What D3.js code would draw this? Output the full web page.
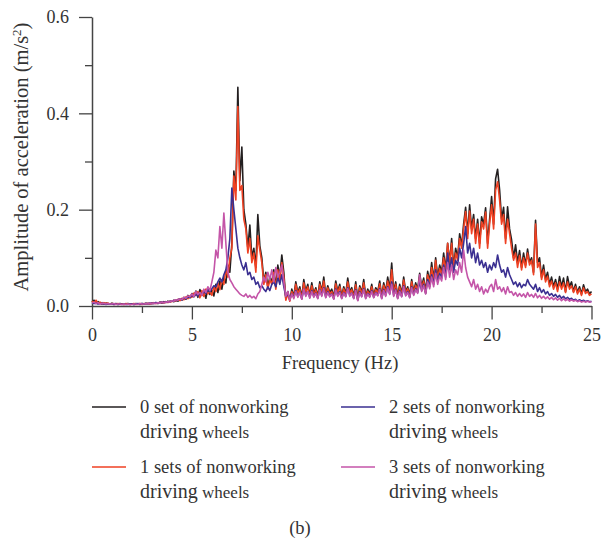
<!DOCTYPE html>
<html>
<head>
<meta charset="utf-8">
<script src="https://cdn.jsdelivr.net/npm/d3@7/dist/d3.min.js"></script>
<style>
  body { margin: 0; background: #fff; }
  svg { display: block; font-family: "Liberation Serif", "Times New Roman", serif; }
</style>
</head>
<body>
<svg id="chart" width="611" height="544"></svg>
<script>
// spectrum sampled every 0.1 Hz from 0 to 25 Hz
const freqStep = 0.1;

// 0 set of nonworking driving wheels
const set0 = [
  0.008,0.012,0.006,0.009,0.005,0.007,0.004,0.006,0.005,0.004,
  0.006,0.004,0.005,0.003,0.005,0.004,0.003,0.004,0.005,0.003,
  0.004,0.003,0.005,0.004,0.003,0.005,0.004,0.006,0.004,0.005,
  0.006,0.005,0.007,0.005,0.008,0.006,0.009,0.007,0.010,0.008,
  0.011,0.009,0.013,0.010,0.015,0.012,0.018,0.014,0.022,0.017,
  0.026,0.020,0.031,0.018,0.034,0.022,0.029,0.016,0.038,0.024,
  0.033,0.021,0.045,0.028,0.052,0.035,0.060,0.048,0.085,0.070,
  0.130,0.280,0.240,0.454,0.260,0.330,0.200,0.170,0.120,0.168,
  0.100,0.120,0.080,0.190,0.125,0.100,0.050,0.070,0.040,0.060,
  0.050,0.075,0.040,0.085,0.060,0.106,0.070,0.015,0.030,0.012,
  0.035,0.020,0.050,0.028,0.040,0.018,0.055,0.030,0.045,0.022,
  0.048,0.025,0.038,0.020,0.050,0.030,0.060,0.022,0.042,0.028,
  0.035,0.018,0.052,0.030,0.045,0.020,0.040,0.025,0.058,0.030,
  0.038,0.020,0.050,0.015,0.042,0.028,0.055,0.020,0.035,0.025,
  0.045,0.022,0.038,0.030,0.052,0.020,0.048,0.030,0.060,0.035,
  0.089,0.030,0.050,0.020,0.045,0.025,0.060,0.030,0.040,0.022,
  0.055,0.030,0.048,0.035,0.068,0.040,0.058,0.030,0.072,0.050,
  0.090,0.055,0.100,0.060,0.085,0.070,0.110,0.075,0.130,0.090,
  0.140,0.080,0.120,0.100,0.150,0.125,0.170,0.205,0.150,0.210,
  0.160,0.190,0.140,0.180,0.130,0.185,0.170,0.204,0.130,0.180,
  0.227,0.170,0.264,0.284,0.241,0.180,0.205,0.140,0.206,0.160,
  0.137,0.100,0.127,0.090,0.115,0.080,0.110,0.085,0.118,0.090,
  0.100,0.070,0.178,0.090,0.100,0.060,0.085,0.055,0.070,0.045,
  0.060,0.040,0.055,0.035,0.061,0.040,0.058,0.030,0.061,0.040,
  0.050,0.030,0.045,0.028,0.040,0.025,0.044,0.030,0.035,0.025,
  0.030
];

// 1 sets of nonworking driving wheels
const set1 = [
  0.010,0.006,0.012,0.005,0.008,0.004,0.007,0.005,0.006,0.004,
  0.005,0.003,0.004,0.005,0.003,0.004,0.003,0.005,0.004,0.003,
  0.004,0.005,0.003,0.004,0.005,0.003,0.005,0.004,0.006,0.004,
  0.005,0.007,0.005,0.006,0.007,0.008,0.006,0.009,0.007,0.010,
  0.009,0.012,0.010,0.014,0.011,0.016,0.013,0.019,0.015,0.021,
  0.018,0.027,0.022,0.030,0.017,0.032,0.020,0.035,0.025,0.030,
  0.022,0.040,0.030,0.048,0.034,0.055,0.045,0.075,0.060,0.100,
  0.120,0.270,0.220,0.414,0.240,0.250,0.180,0.160,0.110,0.140,
  0.090,0.110,0.070,0.146,0.116,0.090,0.045,0.065,0.035,0.055,
  0.045,0.070,0.035,0.075,0.050,0.090,0.060,0.012,0.025,0.010,
  0.030,0.018,0.045,0.025,0.035,0.015,0.048,0.028,0.040,0.020,
  0.042,0.022,0.034,0.018,0.045,0.028,0.052,0.020,0.038,0.025,
  0.030,0.016,0.046,0.027,0.040,0.018,0.036,0.022,0.050,0.027,
  0.034,0.018,0.044,0.013,0.038,0.025,0.048,0.018,0.031,0.022,
  0.040,0.020,0.034,0.027,0.046,0.018,0.043,0.027,0.052,0.030,
  0.075,0.027,0.045,0.018,0.040,0.022,0.054,0.027,0.036,0.020,
  0.050,0.027,0.043,0.031,0.060,0.036,0.052,0.027,0.065,0.045,
  0.080,0.050,0.095,0.055,0.078,0.065,0.100,0.070,0.130,0.085,
  0.130,0.075,0.110,0.095,0.140,0.120,0.160,0.196,0.140,0.197,
  0.150,0.180,0.130,0.170,0.120,0.175,0.160,0.195,0.120,0.170,
  0.210,0.160,0.240,0.258,0.220,0.170,0.190,0.130,0.180,0.150,
  0.120,0.095,0.110,0.080,0.105,0.075,0.100,0.080,0.110,0.085,
  0.095,0.065,0.170,0.080,0.090,0.055,0.075,0.050,0.062,0.040,
  0.052,0.035,0.048,0.030,0.050,0.035,0.048,0.028,0.050,0.035,
  0.042,0.028,0.040,0.025,0.035,0.022,0.038,0.026,0.030,0.022,
  0.025
];

// 2 sets of nonworking driving wheels
const set2 = [
  0.007,0.005,0.006,0.004,0.005,0.004,0.005,0.003,0.004,0.004,
  0.004,0.003,0.004,0.003,0.004,0.003,0.004,0.003,0.003,0.004,
  0.004,0.003,0.004,0.005,0.004,0.005,0.004,0.005,0.005,0.006,
  0.005,0.006,0.007,0.006,0.007,0.008,0.007,0.009,0.008,0.010,
  0.010,0.012,0.011,0.013,0.015,0.013,0.017,0.015,0.019,0.018,
  0.022,0.019,0.025,0.021,0.028,0.024,0.030,0.026,0.034,0.030,
  0.036,0.042,0.040,0.050,0.058,0.050,0.065,0.075,0.100,0.140,
  0.245,0.200,0.160,0.120,0.100,0.085,0.075,0.090,0.065,0.070,
  0.055,0.060,0.045,0.050,0.038,0.042,0.035,0.030,0.040,0.032,
  0.045,0.050,0.040,0.060,0.045,0.065,0.040,0.020,0.025,0.015,
  0.025,0.018,0.032,0.020,0.028,0.015,0.035,0.022,0.030,0.018,
  0.032,0.020,0.027,0.016,0.034,0.022,0.038,0.018,0.030,0.020,
  0.025,0.015,0.035,0.022,0.030,0.016,0.028,0.020,0.038,0.022,
  0.027,0.016,0.034,0.012,0.030,0.020,0.036,0.016,0.026,0.020,
  0.032,0.018,0.028,0.022,0.036,0.016,0.034,0.022,0.040,0.025,
  0.050,0.022,0.035,0.016,0.032,0.020,0.042,0.022,0.030,0.018,
  0.040,0.024,0.036,0.028,0.050,0.032,0.045,0.026,0.055,0.040,
  0.065,0.045,0.075,0.050,0.068,0.058,0.085,0.060,0.110,0.075,
  0.100,0.070,0.095,0.085,0.120,0.100,0.130,0.165,0.110,0.130,
  0.100,0.120,0.090,0.110,0.085,0.095,0.080,0.090,0.070,0.085,
  0.075,0.090,0.080,0.106,0.085,0.070,0.075,0.060,0.080,0.065,
  0.055,0.045,0.050,0.040,0.048,0.038,0.045,0.042,0.055,0.045,
  0.040,0.035,0.045,0.030,0.038,0.028,0.034,0.025,0.030,0.022,
  0.026,0.020,0.024,0.018,0.022,0.016,0.020,0.015,0.018,0.014,
  0.016,0.012,0.014,0.010,0.013,0.010,0.012,0.009,0.011,0.009,
  0.010
];

// 3 sets of nonworking driving wheels
const set3 = [
  0.006,0.008,0.005,0.007,0.004,0.006,0.005,0.004,0.005,0.004,
  0.004,0.005,0.003,0.004,0.004,0.003,0.004,0.003,0.004,0.003,
  0.003,0.004,0.004,0.003,0.005,0.004,0.004,0.005,0.004,0.006,
  0.005,0.006,0.005,0.007,0.006,0.008,0.007,0.008,0.009,0.008,
  0.011,0.010,0.013,0.012,0.015,0.013,0.018,0.016,0.021,0.019,
  0.025,0.020,0.030,0.024,0.028,0.022,0.035,0.028,0.040,0.032,
  0.050,0.070,0.116,0.100,0.165,0.120,0.193,0.130,0.070,0.055,
  0.048,0.040,0.035,0.030,0.025,0.022,0.020,0.025,0.018,0.022,
  0.017,0.020,0.015,0.025,0.030,0.045,0.060,0.050,0.070,0.055,
  0.075,0.050,0.080,0.060,0.070,0.085,0.050,0.020,0.030,0.012,
  0.025,0.015,0.030,0.018,0.028,0.014,0.035,0.020,0.030,0.016,
  0.030,0.018,0.026,0.015,0.033,0.020,0.036,0.017,0.028,0.019,
  0.024,0.014,0.033,0.020,0.028,0.015,0.027,0.019,0.036,0.020,
  0.026,0.015,0.032,0.011,0.028,0.019,0.034,0.015,0.025,0.018,
  0.030,0.017,0.027,0.021,0.034,0.015,0.032,0.020,0.038,0.024,
  0.045,0.020,0.033,0.015,0.030,0.019,0.040,0.021,0.028,0.017,
  0.038,0.022,0.034,0.026,0.065,0.030,0.042,0.025,0.050,0.036,
  0.060,0.040,0.068,0.045,0.062,0.052,0.080,0.055,0.090,0.060,
  0.085,0.055,0.075,0.065,0.090,0.070,0.116,0.080,0.060,0.050,
  0.040,0.055,0.035,0.045,0.030,0.040,0.025,0.035,0.028,0.040,
  0.045,0.030,0.055,0.035,0.040,0.030,0.038,0.025,0.040,0.028,
  0.030,0.022,0.028,0.020,0.026,0.020,0.025,0.018,0.028,0.020,
  0.024,0.018,0.026,0.017,0.022,0.016,0.020,0.015,0.019,0.014,
  0.018,0.013,0.017,0.012,0.016,0.011,0.015,0.011,0.014,0.010,
  0.013,0.010,0.012,0.009,0.011,0.008,0.010,0.008,0.010,0.008,
  0.009
];

const seriesLabels = ["0 set of nonworking", "1 sets of nonworking", "2 sets of nonworking", "3 sets of nonworking"];
const seriesColors = ["#231f20", "#ef4123", "#3a2f91", "#c455a8"];
const yMajorTicks = [0, 0.2, 0.4, 0.6];
const yMinorTicks = [0.1, 0.3, 0.5];
const xMajorTicks = [0, 5, 10, 15, 20, 25];
const xMinorTicks = [2.5, 7.5, 12.5, 17.5, 22.5];

const svg = d3.select("#chart");
const axisColor = "#444";
const textColor = "#333";

const x = d3.scaleLinear().domain([0, 25]).range([92, 591.5]);
const y = d3.scaleLinear().domain([0, 0.6]).range([306, 17]);

// axes
const yMinor = svg.append("g").attr("transform", "translate(92,0)")
  .call(d3.axisLeft(y).tickValues(yMinorTicks).tickSize(7).tickFormat(""));
const yMajor = svg.append("g").attr("transform", "translate(92,0)")
  .call(d3.axisLeft(y).tickValues(yMajorTicks).tickSize(13).tickSizeOuter(0)
    .tickPadding(10).tickFormat(d3.format(".1f")));
const xMinor = svg.append("g").attr("transform", "translate(0,306)")
  .call(d3.axisBottom(x).tickValues(xMinorTicks).tickSize(7).tickFormat(""));
const xMajor = svg.append("g").attr("transform", "translate(0,306)")
  .call(d3.axisBottom(x).tickValues(xMajorTicks).tickSize(13.5).tickSizeOuter(0)
    .tickPadding(9).tickFormat(d3.format("d")));

[yMinor, xMinor].forEach(g => g.select(".domain").remove());
[yMinor, yMajor, xMinor, xMajor].forEach(g => {
  g.selectAll("line").attr("stroke", axisColor).attr("stroke-width", 1.3);
  g.selectAll(".domain").attr("stroke", axisColor).attr("stroke-width", 1.5);
  g.selectAll("text").attr("fill", textColor)
    .style("font-family", "'Liberation Serif', serif").style("font-size", "18px");
});

// spectra, drawn black first and magenta last
const line = d3.line()
  .x((d, i) => x(i * freqStep))
  .y(d => y(d));

[set0, set1, set2, set3].forEach((s, k) => {
  svg.append("path")
    .datum(s)
    .attr("fill", "none")
    .attr("stroke", seriesColors[k])
    .attr("stroke-width", 1.6)
    .attr("stroke-linejoin", "round")
    .attr("d", line);
});

// axis titles
const yTitle = svg.append("text")
  .attr("transform", "translate(28,157) rotate(-90)")
  .attr("text-anchor", "middle")
  .attr("fill", textColor)
  .style("font-size", "20.5px");
yTitle.append("tspan").text("Amplitude of acceleration (m/s");
yTitle.append("tspan").attr("dy", -7).style("font-size", "13px").text("2");
yTitle.append("tspan").attr("dy", 7).text(")");

svg.append("text")
  .attr("x", 340).attr("y", 369)
  .attr("text-anchor", "middle")
  .attr("fill", textColor)
  .style("font-size", "18.5px")
  .text("Frequency (Hz)");

// legend: two columns, two rows
const legendPos = [[92, 407], [92, 467], [341, 407], [341, 467]];
seriesLabels.forEach((label, k) => {
  const [lx, ly] = legendPos[k];
  const g = svg.append("g").attr("transform", `translate(${lx},${ly})`);
  g.append("line")
    .attr("x1", 0).attr("x2", 34).attr("y1", 0).attr("y2", 0)
    .attr("stroke", seriesColors[k]).attr("stroke-width", 1.3);
  g.append("text")
    .attr("x", 48).attr("y", 6)
    .attr("fill", textColor)
    .style("font-size", "18.5px")
    .text(label);
  const t2 = g.append("text")
    .attr("x", 48).attr("y", 31)
    .attr("fill", textColor);
  t2.append("tspan").style("font-size", "20px").text("driving");
  t2.append("tspan").style("font-size", "17px").text(" wheels");
});

svg.append("text")
  .attr("x", 300).attr("y", 534)
  .attr("text-anchor", "middle")
  .attr("fill", textColor)
  .style("font-size", "18.5px")
  .text("(b)");
</script>
</body>
</html>
